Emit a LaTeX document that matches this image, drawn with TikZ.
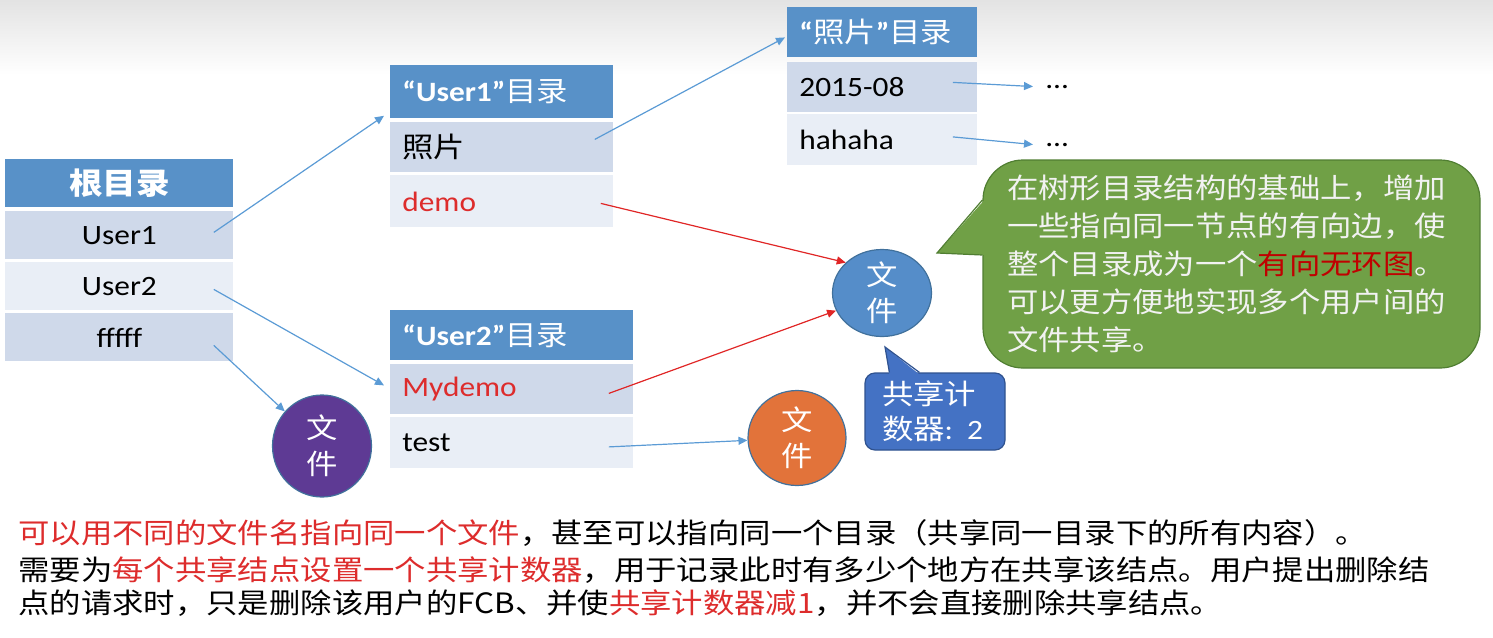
\documentclass[tikz,border=0pt]{standalone}
\usepackage{fontspec}
\setmainfont{Carlito}[FakeStretch=1.12]
\newfontfamily\cjk{Noto Sans CJK SC}[FakeStretch=1.12]
\usepackage{tikz}
\usepackage{xcolor}
\usetikzlibrary{positioning,arrows.meta,shapes.geometric,calc}
\definecolor{hdrblue}{HTML}{5891C8}
\definecolor{rowdark}{HTML}{CFD9EA}
\definecolor{rowlight}{HTML}{E9EEF6}
\definecolor{linkblue}{HTML}{5B9BD5}
\definecolor{linkred}{HTML}{E02626}
\definecolor{textred}{HTML}{DD2C2C}
\definecolor{shapeline}{HTML}{41719C}
\definecolor{fileblue}{HTML}{558DC9}
\definecolor{filepurple}{HTML}{5E3A94}
\definecolor{fileorange}{HTML}{E2733A}
\definecolor{notegreen}{HTML}{70A046}
\definecolor{notedark}{HTML}{507E32}
\definecolor{notered}{HTML}{C00000}
\definecolor{cntblue}{HTML}{4472C4}
\definecolor{cntdark}{HTML}{2F528F}
\newcommand{\cellfont}{\fontsize{14}{17}\selectfont}
\newcommand{\notefont}{\cjk\fontsize{14}{19}\selectfont}

\tikzset{
  cell/.style={anchor=north west, inner xsep=6pt, inner ysep=0pt, align=left, font=\cellfont},
  hdr/.style={cell, fill=hdrblue, text=white},
  drow/.style={cell, fill=rowdark},
  lrow/.style={cell, fill=rowlight},
  filenode/.style={ellipse, draw=shapeline, line width=0.6pt, text=white, align=center,
    inner sep=-3pt, font={\cjk\fontsize{14}{18}\selectfont}},
  notebox/.style={fill=notegreen, draw=notedark, line width=0.6pt, rounded corners=20pt,
    minimum width=248.5pt, minimum height=104pt, text width=224.5pt, inner xsep=12pt,
    align=left, text=white!95!black, font=\notefont},
  cntbox/.style={fill=cntblue, draw=cntdark, line width=0.6pt, rounded corners=5pt,
    minimum width=70pt, minimum height=38.5pt, text width=53pt, inner xsep=8.5pt,
    align=left, text=white, font={\cjk\fontsize{14}{17.5}\selectfont}},
  bottomtxt/.style={anchor=west, inner sep=0pt, font={\cjk\fontsize{14}{17}\selectfont}},
  link/.style={draw=linkblue, line width=0.6pt, -{Triangle[length=4.5pt,width=4pt]}},
  redlink/.style={link, draw=linkred},
}

\begin{document}
\begin{tikzpicture}[x=0.5pt, y=-0.5pt]
  \useasboundingbox (0,0) rectangle (1493,637);
  \shade[top color=black!11, bottom color=white] (0,0) rectangle (1493,75);

  % root directory
  \node[hdr, align=center, text width=102pt, minimum height=24pt, font=\fontsize{15}{18}\selectfont] (rooth) at (5,159) {{\cjk\bfseries 根目录}};
  \node[drow, align=center, text width=102pt, minimum height=24pt] (ru1) at (5,211) {User1};
  \node[lrow, align=center, text width=102pt, minimum height=24pt] (ru2) at (5,262) {User2};
  \node[drow, align=center, text width=102pt, minimum height=24pt] (rf) at (5,313) {fffff};

  % User1
  \node[hdr, text width=99.5pt, minimum height=26.5pt] (u1h) at (390,65) {{\bfseries “User1”}{\cjk 目录}};
  \node[drow, text width=99.5pt, minimum height=25pt] (u1r1) at (390,122) {{\cjk 照片}};
  \node[lrow, text width=99.5pt, minimum height=26pt, text=textred] (u1r2) at (390,175) {demo};

  % photos
  \node[hdr, text width=83pt, minimum height=25pt] (phh) at (787,7) {{\bfseries “}{\cjk 照片}{\bfseries ”}{\cjk 目录}};
  \node[drow, text width=83pt, minimum height=25pt] (ph1) at (787,62) {2015-08};
  \node[lrow, text width=83pt, minimum height=25.5pt] (ph2) at (787,114) {hahaha};
  \node[anchor=base west, inner sep=0pt, font=\cellfont] (dots1) at (1046,88) {…};
  \node[anchor=base west, inner sep=0pt, font=\cellfont] (dots2) at (1046,146) {…};

  % User2
  \node[hdr, text width=109.5pt, minimum height=25pt] (u2h) at (390,310) {{\bfseries “User2”}{\cjk 目录}};
  \node[drow, text width=109.5pt, minimum height=25pt, text=textred] (u2r1) at (390,364) {Mydemo};
  \node[lrow, text width=109.5pt, minimum height=25.5pt] (u2r2) at (390,417) {test};

  % files
  \node[filenode, fill=fileblue, minimum width=49.5pt, minimum height=43.5pt] (fb) at (882,293) {文\\件};
  \node[filenode, fill=filepurple, minimum width=49.5pt, minimum height=51pt] (fp) at (322,446) {文\\件};
  \node[filenode, fill=fileorange, minimum width=49pt, minimum height=47.5pt] (fo) at (797,438) {文\\件};

  % callouts
  \node[notebox] (note) at (1231.5,264) {在树形目录结构的基础上，增加\\一些指向同一节点的有向边，使\\整个目录成为一个{\color{notered}有向无环图}。\\可以更方便地实现多个用户间的\\文件共享。};
  \coordinate (notetip) at (937,253);
  \fill[notegreen] ([xshift=1pt,yshift=32pt]note.west) -- (notetip) -- ([xshift=1pt,yshift=4.5pt]note.west) -- cycle;
  \draw[notedark, line width=0.6pt] ([yshift=32pt]note.west) -- (notetip) -- ([yshift=4.5pt]note.west);

  \node[cntbox] (cnt) at (935,411.5) {共享计\\数器{\rmfamily: 2}};
  \coordinate (cnttip) at (885,347);
  \fill[cntblue] ([xshift=12.5pt,yshift=-1pt]cnt.north west) -- (cnttip) -- ([xshift=27.5pt,yshift=-1pt]cnt.north west) -- cycle;
  \draw[cntdark, line width=0.6pt] ([xshift=12.5pt]cnt.north west) -- (cnttip) -- ([xshift=27.5pt]cnt.north west);

  % links
  \draw[link] ([xshift=-10pt,yshift=1.5pt]ru1.east) -- ([xshift=-3pt,yshift=1.5pt]u1h.south west);
  \draw[link] ([xshift=-10pt,yshift=-1.5pt]ru2.east) -- ([xshift=-3pt,yshift=2pt]u2r1.west);
  \draw[link] ([xshift=-10pt,yshift=-4pt]rf.east) -- (fp);
  \draw[link] ([xshift=-9.5pt,yshift=4pt]u1r1.east) -- ([xshift=-1pt,yshift=-2.5pt]phh.west);
  \draw[link] ([xshift=-12.5pt,yshift=2.5pt]ph1.east) -- ([xshift=-6.5pt]dots1.west);
  \draw[link] ([xshift=-12.5pt,yshift=1.5pt]ph2.east) -- ([xshift=-6.5pt]dots2.west);
  \draw[redlink] ([xshift=-6.5pt,yshift=-1pt]u1r2.east) -- (fb.140);
  \draw[redlink] ([xshift=-12.5pt,yshift=-2pt]u2r1.east) -- (fb.201);
  \draw[link] ([xshift=-12.5pt,yshift=-2pt]u2r2.east) -- (fo);

  % notes below
  \node[bottomtxt] (line1) at (18,533) {{\color{textred}可以用不同的文件名指向同一个文件}，甚至可以指向同一个目录（共享同一目录下的所有内容）。};
  \node[bottomtxt] (line2) at (18,570) {需要为{\color{textred}每个共享结点设置一个共享计数器}，用于记录此时有多少个地方在共享该结点。用户提出删除结};
  \node[bottomtxt] (line3) at (18,603) {点的请求时，只是删除该用户的FCB、并使{\color{textred}共享计数器减1}，并不会直接删除共享结点。};
\end{tikzpicture}
\end{document}
